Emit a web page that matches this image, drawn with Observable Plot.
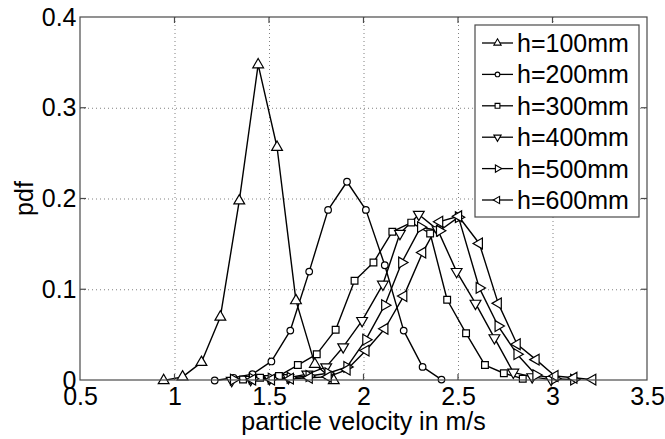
<!DOCTYPE html>
<html><head><meta charset="utf-8">
<script src="https://cdn.jsdelivr.net/npm/d3@7"></script>
<script src="https://cdn.jsdelivr.net/npm/@observablehq/plot@0.6"></script>
<style>
body{margin:0;background:#fff}
svg{font-family:"Liberation Sans",Arial,sans-serif}
</style>
</head><body><div id="chart"></div>
<script>
// ---- data ----
const seriesNames = ["h=100mm","h=200mm","h=300mm","h=400mm","h=500mm","h=600mm"];
const xTicks = [0.5,1,1.5,2,2.5,3,3.5];
const yTicks = [0,0.1,0.2,0.3,0.4];

const h100x = [0.94,1.04,1.14,1.24,1.34,1.44,1.54,1.64,1.74,1.84];
const h100y = [0.0,0.004,0.02,0.07,0.198,0.348,0.257,0.088,0.018,0.0];

const h200x = [1.21,1.31,1.41,1.51,1.61,1.71,1.81,1.91,2.01,2.11,2.21,2.31,2.41];
const h200y = [0.0,0.003,0.007,0.021,0.055,0.12,0.188,0.219,0.188,0.127,0.055,0.015,0.001];

const h300x = [1.36,1.45,1.55,1.65,1.75,1.85,1.95,2.05,2.15,2.25,2.35,2.44,2.54,2.64,2.74,2.84];
const h300y = [0.001,0.003,0.005,0.017,0.029,0.056,0.110,0.130,0.164,0.174,0.162,0.089,0.052,0.017,0.008,0.002];

const h400x = [1.30,1.40,1.50,1.60,1.70,1.80,1.89,1.99,2.10,2.19,2.29,2.39,2.49,2.59,2.69,2.79,2.89,2.99];
const h400y = [0.0,0.001,0.002,0.003,0.007,0.015,0.037,0.066,0.106,0.162,0.183,0.166,0.120,0.085,0.047,0.009,0.004,0.001];

const h500x = [1.31,1.41,1.51,1.61,1.71,1.81,1.91,2.01,2.11,2.20,2.30,2.40,2.50,2.61,2.71,2.81,2.91,3.01,3.11];
const h500y = [0.001,0.002,0.002,0.003,0.005,0.008,0.015,0.045,0.083,0.130,0.169,0.165,0.180,0.102,0.060,0.029,0.006,0.002,0.001];

const h600x = [1.41,1.51,1.61,1.71,1.81,1.91,2.01,2.11,2.21,2.31,2.40,2.50,2.61,2.71,2.81,2.91,3.01,3.11,3.21];
const h600y = [0.001,0.001,0.002,0.003,0.004,0.012,0.033,0.057,0.093,0.141,0.175,0.181,0.151,0.085,0.040,0.023,0.005,0.003,0.001];

const markerSymbols = ["triangle","circle","square","triangle","triangle","triangle"];
const markerRotate = [0,0,0,180,90,-90];

// ---- build ----
const xs = [h100x,h200x,h300x,h400x,h500x,h600x];
const ys = [h100y,h200y,h300y,h400y,h500y,h600y];
const series = seriesNames.map((name,i)=>({name, data: xs[i].map((x,j)=>({name, x, y: ys[i][j]}))}));

const W = 665, H = 439;
const ink = "#000";
const marks = [
  Plot.gridX(xTicks.slice(1,-1), {stroke:"#808080", strokeOpacity:1, strokeWidth:1, strokeDasharray:"1,3"}),
  Plot.gridY(yTicks.slice(1,-1), {stroke:"#808080", strokeOpacity:1, strokeWidth:1, strokeDasharray:"1,3"}),
  Plot.axisX(xTicks, {tickSize:0, tickPadding:7, fontSize:25, fill:ink, label:null, tickFormat:d=>String(d)}),
  Plot.axisY(yTicks, {tickSize:0, tickPadding:4, fontSize:25, fill:ink, label:null, tickFormat:d=>String(d)}),
];
series.forEach((s,i)=>{
  marks.push(Plot.line(s.data, {x:"x", y:"y", stroke:ink, strokeWidth:1.4}));
});
series.forEach((s,i)=>{
  const r = markerSymbols[i]==="circle" ? 3.3 : (markerSymbols[i]==="square" ? 3.8 : 4.0);
  marks.push(Plot.dot(s.data, {x:"x", y:"y", symbol:markerSymbols[i], rotate:markerRotate[i], r, fill:"white", stroke:ink, strokeWidth:1.2}));
});

const plot = Plot.plot({
  width: W, height: H,
  marginLeft: 80, marginRight: 18, marginTop: 17, marginBottom: 59,
  style: {fontFamily:'"Liberation Sans",Arial,sans-serif', fontSize:"25px", background:"white", color:ink},
  x: {domain:[0.5,3.5]},
  y: {domain:[0,0.4]},
  marks
});
document.getElementById("chart").appendChild(plot);

// ---- frame, inward ticks, labels, legend ----
const svg = d3.select(plot);
const sx = plot.scale("x"), sy = plot.scale("y");
const x0 = sx.apply(0.5), x1 = sx.apply(3.5), y0 = sy.apply(0), y1 = sy.apply(0.4);
const fg = svg.append("g").attr("fill","none").attr("stroke","#4a4a4a").attr("stroke-width",1.2);
fg.append("rect").attr("x",x0).attr("y",y1).attr("width",x1-x0).attr("height",y0-y1);
const tl = 6;
xTicks.slice(1,-1).forEach(v=>{
  const px = sx.apply(v);
  fg.append("line").attr("x1",px).attr("x2",px).attr("y1",y0).attr("y2",y0-tl);
  fg.append("line").attr("x1",px).attr("x2",px).attr("y1",y1).attr("y2",y1+tl);
});
yTicks.slice(1,-1).forEach(v=>{
  const py = sy.apply(v);
  fg.append("line").attr("x1",x0).attr("x2",x0+tl).attr("y1",py).attr("y2",py);
  fg.append("line").attr("x1",x1).attr("x2",x1-tl).attr("y1",py).attr("y2",py);
});

svg.append("text").attr("x",(x0+x1)/2).attr("y",430).attr("text-anchor","middle")
  .attr("font-size",25).attr("fill",ink).text("particle velocity in m/s");
svg.append("text").attr("transform",`translate(33,${(y0+y1)/2}) rotate(-90)`).attr("text-anchor","middle")
  .attr("font-size",25).attr("fill",ink).text("pdf");

// legend
const lg = svg.append("g");
lg.append("rect").attr("x",475).attr("y",25).attr("width",164).attr("height",192)
  .attr("fill","white").attr("stroke","#4a4a4a").attr("stroke-width",1.2);
const symMap = {triangle:d3.symbolTriangle, circle:d3.symbolCircle, square:d3.symbolSquare};
seriesNames.forEach((name,i)=>{
  const cy = 43 + i*31.4;
  lg.append("line").attr("x1",482).attr("x2",513).attr("y1",cy).attr("y2",cy).attr("stroke",ink).attr("stroke-width",1.3);
  const rr = markerSymbols[i]==="circle" ? 2.3 : 2.7;
  lg.append("path").attr("d", d3.symbol(symMap[markerSymbols[i]], Math.PI*rr*rr)())
    .attr("transform",`translate(497.5,${cy}) rotate(${markerRotate[i]})`)
    .attr("fill","white").attr("stroke",ink).attr("stroke-width",1.1);
  lg.append("text").attr("x",517).attr("y",cy).attr("dy","0.36em").attr("text-anchor","start")
    .attr("font-size",25).attr("fill",ink).text(name);
});
</script>
</body></html>
